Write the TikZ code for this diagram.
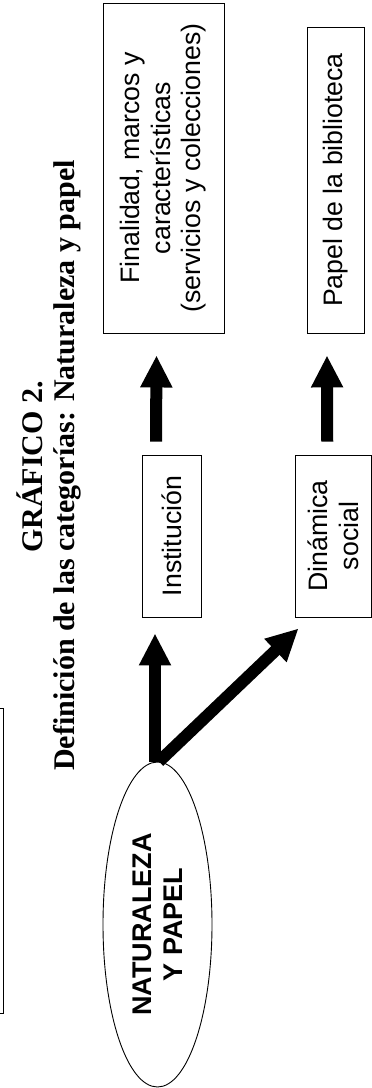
\documentclass[tikz,border=0pt]{standalone}
\usepackage{fontspec}
\setmainfont{Liberation Serif}
\newfontfamily\arial{Liberation Sans}
\usetikzlibrary{arrows.meta,shapes.geometric,calc}
\tikzset{
  box/.style={draw, line width=0.9pt, rectangle, rotate=90, align=center, inner sep=0pt,
    font=\arial\fontsize{26.7}{30.5}\selectfont},
  oval/.style={draw, line width=0.9pt, ellipse, rotate=90, align=center, inner sep=0pt,
    font=\arial\bfseries\fontsize{27}{31}\selectfont},
  titletext/.style={rotate=90, anchor=base, inner sep=0pt,
    font=\bfseries\fontsize{30}{32.5}\selectfont},
  bigarrow/.style={line width=12pt, -{Triangle[length=32pt,width=30pt]}},
  frame/.style={draw, line width=0.9pt}
}
\begin{document}
\begin{tikzpicture}[x=1pt,y=-1pt]
\useasboundingbox (0,0) rectangle (372,1088);
% partial frame at left edge
\draw[frame] (-20,708) rectangle (3.5,1013);
% title
\node[titletext] (t1) at (42,467) {GRÁFICO 2.};
\node[titletext] (t2) at (74.5,465.5) {Definición de las categorías: Naturaleza y papel};
% nodes
\node[oval, minimum width=325pt, minimum height=109pt] (nat) at (157.5,924.5) {NATURALEZA\\Y PAPEL};
\node[box, minimum width=162pt, minimum height=59pt] (inst) at (171.5,536) {Institución};
\node[box, minimum width=162pt, minimum height=76.5pt] (dyn) at (333.25,536) {Dinámica\\social};
\node[box, minimum width=330pt, minimum height=121pt] (fin) at (163.5,168) {Finalidad, marcos y\\características\\(servicios y colecciones)};
\node[box, minimum width=306pt, minimum height=57pt] (pap) at (335.5,180) {Papel de la biblioteca};
% arrows
\draw[bigarrow] ($(nat.east)+(-2.5,0)$) -- ($(inst.west)+(-16.5,16)$);
\draw[bigarrow] ($(nat.east)+(1.5,0)$) -- ($(dyn.north west)+(4,11)$);
\draw[bigarrow] ($(inst.east)+(-15.5,-13)$) -- ($(fin.west)+(-7,22)$);
\draw[bigarrow] ($(dyn.east)+(-6,-13)$) -- ($(pap.west)+(-8.5,22)$);
\end{tikzpicture}
\end{document}
